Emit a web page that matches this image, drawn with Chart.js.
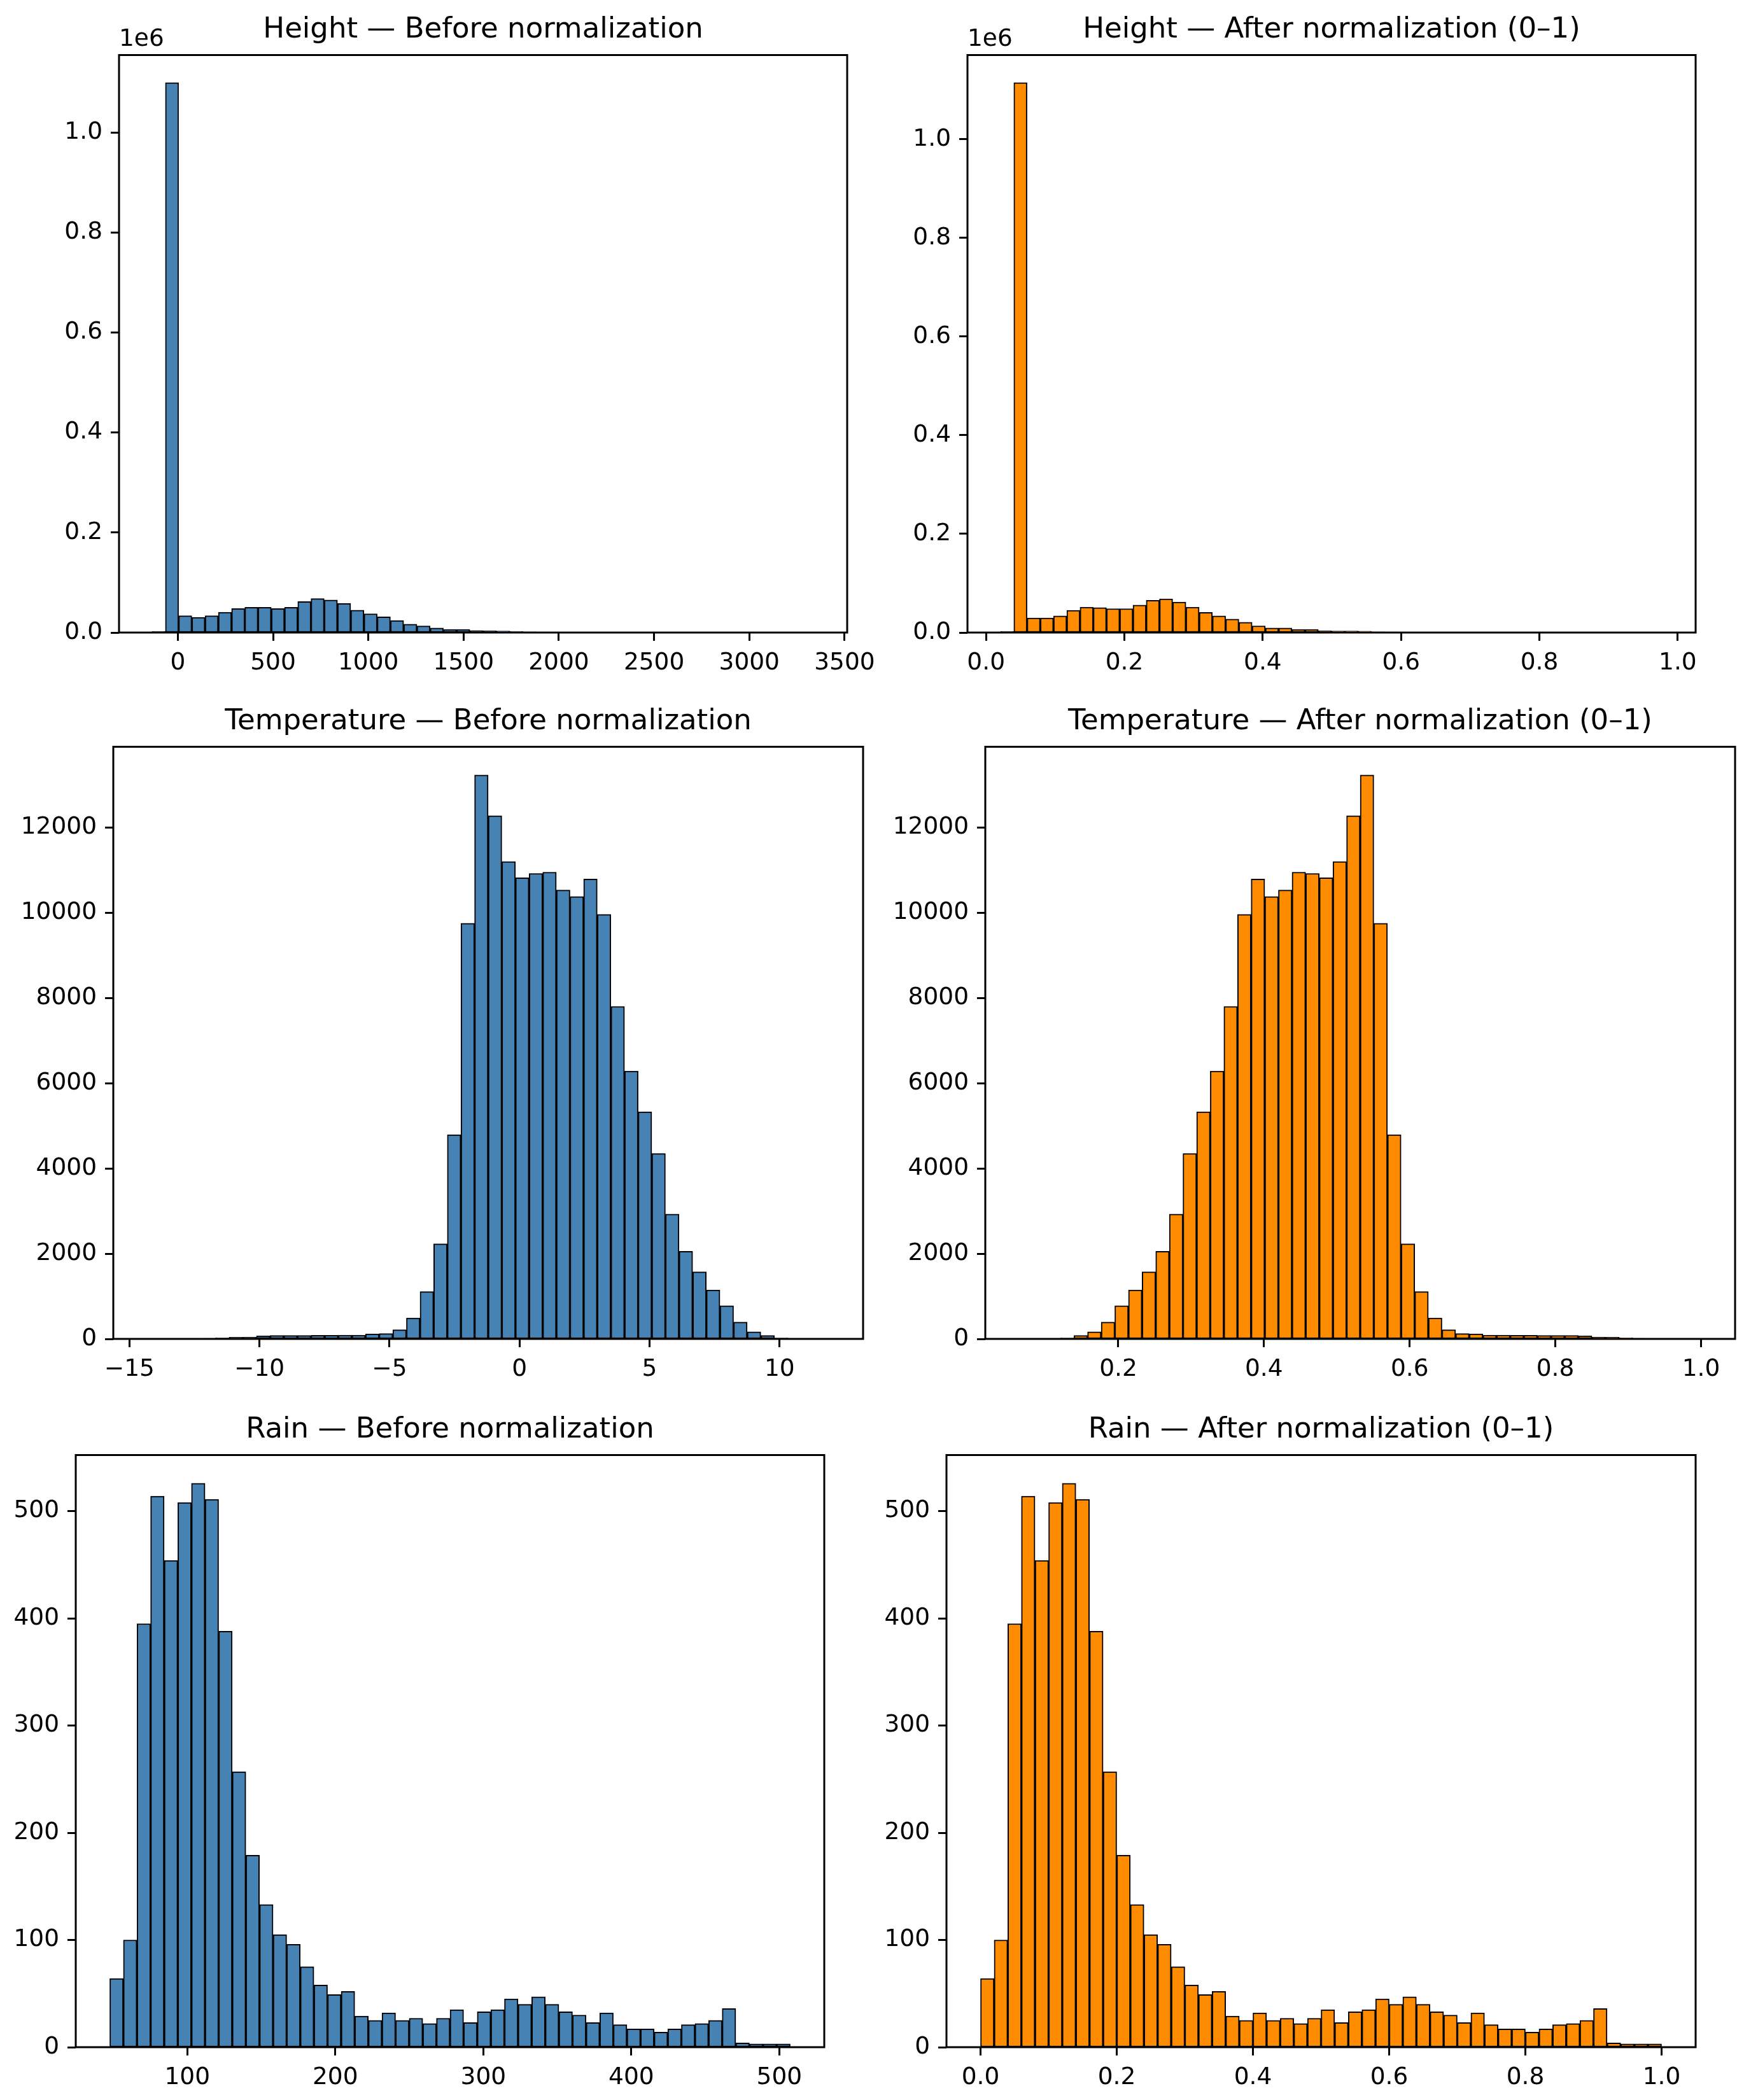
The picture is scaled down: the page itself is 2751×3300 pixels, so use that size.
<!DOCTYPE html>
<html><head><meta charset="utf-8">
<script src="https://cdn.jsdelivr.net/npm/chart.js@4.4.1/dist/chart.umd.min.js"></script>
<style>
html,body{margin:0;padding:0;background:#fff;}
#page{position:relative;width:2751px;height:3300px;overflow:hidden;background:#fff;}
.title{position:absolute;font-family:"DejaVu Sans";font-size:45px;line-height:45px;color:#000;text-align:center;white-space:nowrap;}
.offset{position:absolute;font-family:"DejaVu Sans";font-size:37.5px;line-height:37.5px;color:#000;white-space:nowrap;}
canvas{position:absolute;}
</style></head><body><div id="page"></div>
<script>
// ---------------- DATA ----------------
// Height (50 bins)
const heightBeforeRange = [-135, 3340];
const heightBeforeCounts = [2000, 1100000, 33500, 30500, 33500, 40500, 48000, 50500, 50500, 48000, 50500, 62000, 68000, 65000, 58000, 44800, 37500, 31500, 24000, 16800, 13200, 9200, 6300, 6300, 3900, 3500, 3000, 2600, 1500, 1200, 1000, 800, 650, 500, 400, 320, 260, 200, 160, 130, 100, 80, 60, 50, 40, 30, 20, 15, 10, 5];
const heightAfterRange = [0.021, 0.978];
const heightAfterCounts = [2000, 1115000, 29500, 29500, 33700, 45000, 51400, 50500, 48400, 48400, 55600, 65300, 68200, 61900, 51400, 40800, 33700, 27400, 21000, 13500, 9300, 9300, 6300, 6300, 3500, 3200, 3000, 2800, 1500, 1200, 1000, 800, 650, 500, 400, 320, 260, 200, 160, 130, 100, 80, 60, 50, 40, 30, 20, 15, 10, 5];
// Temperature (50 bins)
const tempBeforeRange = [-14.31, 11.90];
const tempBeforeCounts = [5, 5, 8, 10, 15, 25, 40, 45, 75, 80, 80, 80, 85, 85, 90, 90, 120, 125, 215, 490, 1110, 2230, 4790, 9750, 13230, 12275, 11200, 10820, 10920, 10950, 10530, 10380, 10790, 9960, 7800, 6285, 5330, 4350, 2930, 2055, 1574, 1150, 777, 393, 167, 80, 20, 10, 5, 3];
const tempAfterRange = [0.0642, 1.0];
const tempAfterCounts = [3, 5, 10, 20, 80, 167, 393, 777, 1150, 1574, 2055, 2930, 4350, 5330, 6285, 7800, 9960, 10790, 10380, 10530, 10950, 10920, 10820, 11200, 12275, 13230, 9750, 4790, 2230, 1110, 490, 215, 125, 120, 90, 90, 85, 85, 80, 80, 80, 75, 45, 40, 25, 15, 10, 8, 5, 5];
// Rain (50 bins)
const rainBeforeRange = [47.6, 507.4];
const rainBeforeCounts = [64, 100, 395, 514, 454, 508, 526, 511, 388, 257, 179, 133, 105, 96, 75, 58, 49, 52, 29, 25, 32, 25, 27, 22, 27, 35, 23, 33, 35, 45, 40, 47, 40, 33, 30, 23, 32, 21, 17, 17, 14, 17, 21, 22, 25, 36, 4, 3, 3, 3];
const rainAfterRange = [0.0, 1.0];
const rainAfterCounts = [64, 100, 395, 514, 454, 508, 526, 511, 388, 257, 179, 133, 105, 96, 75, 58, 49, 52, 29, 25, 32, 25, 27, 22, 27, 35, 23, 33, 35, 45, 40, 47, 40, 33, 30, 23, 32, 21, 17, 17, 14, 17, 21, 22, 25, 36, 4, 3, 3, 3];

// Tick values and labels
const heightBeforeXTicks = [0, 500, 1000, 1500, 2000, 2500, 3000, 3500];
const heightBeforeXLabels = ["0", "500", "1000", "1500", "2000", "2500", "3000", "3500"];
const unitXTicks = [0, 0.2, 0.4, 0.6, 0.8, 1.0];
const unitXLabels = ["0.0", "0.2", "0.4", "0.6", "0.8", "1.0"];
const tempAfterXTicks = [0.2, 0.4, 0.6, 0.8, 1.0];
const tempAfterXLabels = ["0.2", "0.4", "0.6", "0.8", "1.0"];
const tempBeforeXTicks = [-15, -10, -5, 0, 5, 10];
const tempBeforeXLabels = ["\u221215", "\u221210", "\u22125", "0", "5", "10"];
const rainBeforeXTicks = [100, 200, 300, 400, 500];
const rainBeforeXLabels = ["100", "200", "300", "400", "500"];
const heightYTicks = [0, 200000, 400000, 600000, 800000, 1000000];
const heightYLabels = ["0.0", "0.2", "0.4", "0.6", "0.8", "1.0"];
const tempYTicks = [0, 2000, 4000, 6000, 8000, 10000, 12000];
const tempYLabels = ["0", "2000", "4000", "6000", "8000", "10000", "12000"];
const rainYTicks = [0, 100, 200, 300, 400, 500];
const rainYLabels = ["0", "100", "200", "300", "400", "500"];

const titles = ["Height \u2014 Before normalization", "Height \u2014 After normalization (0\u20131)",
  "Temperature \u2014 Before normalization", "Temperature \u2014 After normalization (0\u20131)",
  "Rain \u2014 Before normalization", "Rain \u2014 After normalization (0\u20131)"];

const BLUE = '#4682B4', ORANGE = '#FF8C00';

// ---------------- LAYOUT ----------------
const panels = [
  {counts: heightBeforeCounts, range: heightBeforeRange, xt: heightBeforeXTicks, xl: heightBeforeXLabels, yt: heightYTicks, yl: heightYLabels, color: BLUE, title: titles[0], offset: "1e6", box: {l: 187, r: 1331, t: 81, b: 994}},
  {counts: heightAfterCounts, range: heightAfterRange, xt: unitXTicks, xl: unitXLabels, yt: heightYTicks, yl: heightYLabels, color: ORANGE, title: titles[1], offset: "1e6", box: {l: 1520, r: 2664, t: 81, b: 994}},
  {counts: tempBeforeCounts, range: tempBeforeRange, xt: tempBeforeXTicks, xl: tempBeforeXLabels, yt: tempYTicks, yl: tempYLabels, color: BLUE, title: titles[2], box: {l: 178, r: 1356, t: 1168, b: 2104}},
  {counts: tempAfterCounts, range: tempAfterRange, xt: tempAfterXTicks, xl: tempAfterXLabels, yt: tempYTicks, yl: tempYLabels, color: ORANGE, title: titles[3], box: {l: 1548, r: 2726, t: 1168, b: 2104}},
  {counts: rainBeforeCounts, range: rainBeforeRange, xt: rainBeforeXTicks, xl: rainBeforeXLabels, yt: rainYTicks, yl: rainYLabels, color: BLUE, title: titles[4], box: {l: 119, r: 1295, t: 2281, b: 3217}},
  {counts: rainAfterCounts, range: rainAfterRange, xt: unitXTicks, xl: unitXLabels, yt: rainYTicks, yl: rainYLabels, color: ORANGE, title: titles[5], box: {l: 1487, r: 2664, t: 2281, b: 3217}}
];

const PL = 170, PT = 30, PR = 90, PB = 90;
const FONT = {family: 'DejaVu Sans', size: 37.5};
const frame = {id: 'frame', afterDraw(chart) {
  const {ctx, chartArea: a} = chart;
  ctx.save(); ctx.strokeStyle = '#000'; ctx.lineWidth = 3;
  ctx.strokeRect(a.left, a.top, a.right - a.left, a.bottom - a.top);
  ctx.restore();
}};

const page = document.getElementById('page');
panels.forEach(p => {
  const {l, r, t, b} = p.box;
  const W = (r - l) + PL + PR, H = (b - t) + PT + PB;
  const cv = document.createElement('canvas');
  cv.width = W; cv.height = H;
  cv.style.width = W + 'px'; cv.style.height = H + 'px';
  cv.style.left = (l - PL) + 'px'; cv.style.top = (t - PT) + 'px';
  page.appendChild(cv);

  const ti = document.createElement('div');
  ti.className = 'title'; ti.textContent = p.title;
  ti.style.left = l + 'px'; ti.style.width = (r - l) + 'px'; ti.style.top = (t - 60) + 'px';
  page.appendChild(ti);
  if (p.offset) {
    const of = document.createElement('div');
    of.className = 'offset'; of.textContent = p.offset;
    of.style.left = l + 'px'; of.style.top = (t - 40) + 'px';
    page.appendChild(of);
  }

  const n = p.counts.length;
  const [lo, hi] = p.range;
  const w = (hi - lo) / n;
  const pts = p.counts.map((c, i) => ({x: lo + (i + 0.5) * w, y: c}));
  const span = hi - lo;
  const xmin = lo - 0.05 * span, xmax = hi + 0.05 * span;
  const ymax = 1.05 * Math.max(...p.counts);
  const grid = {display: true, drawOnChartArea: false, drawTicks: true, tickLength: 13, tickWidth: 3, tickColor: '#000', offset: false};

  new Chart(cv, {
    type: 'bar',
    data: {datasets: [{data: pts, backgroundColor: p.color, borderColor: '#000', borderWidth: 2, borderSkipped: false,
      barPercentage: 1, categoryPercentage: 1, grouped: false}]},
    options: {
      responsive: false, animation: false, devicePixelRatio: 1,
      layout: {padding: {left: 0, top: PT, right: PR, bottom: 0}},
      plugins: {legend: {display: false}, tooltip: {enabled: false}, title: {display: false}},
      scales: {
        x: {type: 'linear', min: xmin, max: xmax, bounds: 'data', offset: false,
          afterBuildTicks: s => { s.ticks = p.xt.map(v => ({value: v})); },
          afterFit: s => { s.height = PB; },
          ticks: {autoSkip: false, maxRotation: 0, minRotation: 0, padding: 13, color: '#000', font: FONT,
            callback: (v, i) => p.xl[i]},
          grid: grid, border: {display: false}},
        y: {type: 'linear', min: 0, max: ymax, bounds: 'data',
          afterBuildTicks: s => { s.ticks = p.yt.map(v => ({value: v})); },
          afterFit: s => { s.width = PL; },
          ticks: {autoSkip: false, padding: 13, color: '#000', font: FONT, callback: (v, i) => p.yl[i]},
          grid: grid, border: {display: false}}
      }
    },
    plugins: [frame]
  });
});
</script>
</body></html>
